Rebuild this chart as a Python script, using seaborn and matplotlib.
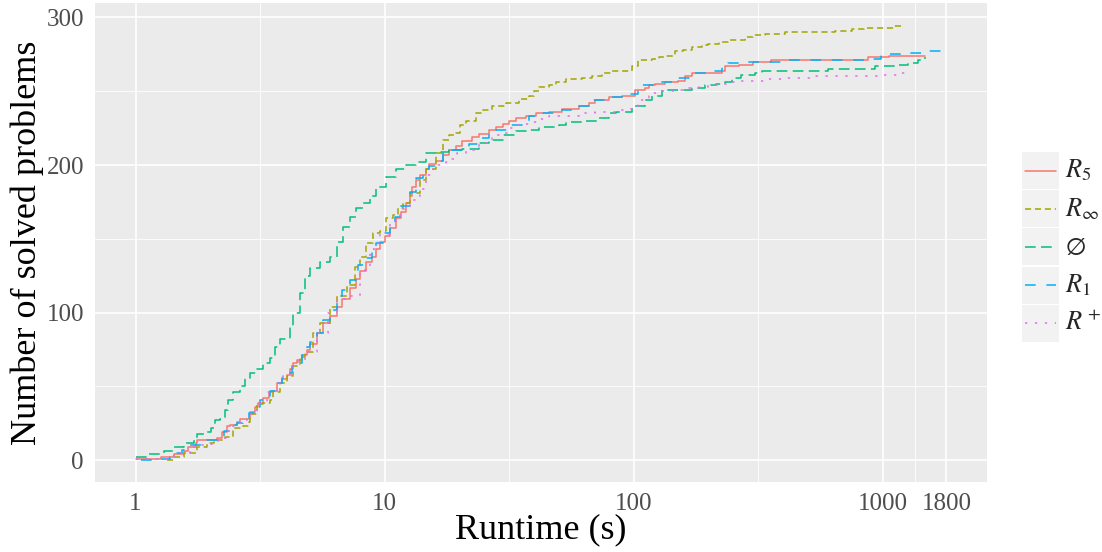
import numpy as np
import pandas as pd
import matplotlib
matplotlib.use("Agg")
import matplotlib.pyplot as plt
from matplotlib.patches import Rectangle
from matplotlib.lines import Line2D
import seaborn as sns

# solver names (legend labels)
solvers = ["$R_5$", "$R_\\infty$", "$\\varnothing$", "$R_1$", "$R^+$"]

# (runtime in s, number of solved problems)
r5 = np.array([
    (1.0, 1), (1.26, 2), (1.42, 4), (1.56, 6), (1.63, 9), (1.74, 12),
    (1.76, 14), (2.12, 15), (2.22, 19), (2.33, 23), (2.4, 24), (2.55, 26),
    (2.63, 28), (2.88, 33), (3.02, 36), (3.11, 39), (3.26, 42), (3.42, 46),
    (3.52, 47), (3.68, 52), (3.86, 55), (4.04, 58), (4.17, 62), (4.3, 66),
    (4.43, 68), (4.64, 71), (4.86, 75), (5.01, 79), (5.33, 86), (5.66, 93),
    (6.03, 98), (6.41, 104), (6.72, 109), (7.24, 117), (7.7, 123),
    (7.94, 128), (8.44, 134), (8.86, 138), (9.27, 143), (9.55, 148),
    (10.0, 152), (10.47, 157), (11.1, 164), (11.66, 168), (12.2, 174),
    (12.6, 179), (12.9, 185), (13.4, 190), (13.8, 193), (14.6, 197),
    (15.1, 201), (16.1, 203), (17.1, 207), (18.2, 210), (19.3, 213),
    (20.5, 216), (22.5, 219), (23.9, 221), (26.2, 224), (28, 226),
    (29.8, 228), (31.6, 230), (33.6, 232), (36.8, 233), (40.4, 235),
    (45.7, 236), (51.6, 238), (60.3, 240), (65.9, 242), (70.1, 244),
    (79.4, 246), (89.8, 247), (101.4, 251), (111, 252), (115, 254),
    (122, 255), (134, 256), (150, 257), (161, 260), (171, 262), (225, 264),
    (232, 267), (265, 268), (300, 270), (357, 271), (871, 273), (1054, 274),
    (1470, 274)])

r_inf = np.array([
    (1.34, 0), (1.42, 2), (1.56, 5), (1.76, 9), (1.93, 12), (2.06, 14),
    (2.29, 16), (2.47, 22), (2.71, 23), (2.84, 26), (2.88, 31), (3.07, 38),
    (3.26, 39), (3.46, 41), (3.57, 46), (3.8, 52), (4.04, 57), (4.3, 64),
    (4.57, 70), (4.79, 73), (5.17, 86), (5.5, 93), (6.03, 104), (6.41, 111),
    (7.04, 119), (7.59, 131), (7.94, 138), (8.44, 147), (8.97, 154),
    (9.55, 155), (10.1, 164), (10.8, 166), (11.3, 171), (11.8, 174),
    (12.6, 181), (13.8, 190), (14.7, 197), (16.1, 208), (17.1, 217),
    (18.2, 220), (19.3, 222), (20, 227), (21.3, 230), (23.2, 235),
    (24.6, 237), (26.9, 240), (30.6, 242), (34.7, 245), (38, 247),
    (39.8, 250), (41.7, 253), (45.7, 254), (48.6, 256), (53.3, 258),
    (62.2, 259), (68, 260), (74.7, 262), (82, 264), (98.3, 267), (104, 271),
    (118, 272), (126, 273), (134, 274), (146, 277), (158, 278), (171, 280),
    (188, 281), (199, 282), (219, 283), (239, 285), (280, 287), (300, 288),
    (335, 289), (405, 290), (645, 291), (750, 292), (842, 293), (1111, 294),
    (1219, 294)])

empty = np.array([
    (1.0, 2), (1.11, 4), (1.3, 6), (1.42, 9), (1.56, 12), (1.71, 14),
    (1.76, 18), (1.88, 19), (2.0, 22), (2.09, 27), (2.19, 28), (2.29, 34),
    (2.36, 41), (2.47, 46), (2.63, 50), (2.75, 56), (2.88, 59), (3.07, 62),
    (3.26, 66), (3.46, 69), (3.63, 77), (3.8, 82), (4.17, 91), (4.3, 100),
    (4.57, 113), (4.79, 125), (5.01, 130), (5.5, 134), (6.03, 138),
    (6.41, 148), (6.81, 158), (7.24, 165), (7.7, 171), (8.2, 174),
    (8.7, 179), (9.27, 185), (10.1, 192), (11.1, 197), (12.2, 200),
    (13.4, 202), (14.7, 208), (16.6, 209), (18.2, 210), (20.5, 211),
    (23.9, 215), (26.2, 217), (29.8, 220), (33.6, 223), (38, 224),
    (41.7, 226), (50, 227), (53.3, 229), (64.3, 230), (72, 232), (79.4, 235),
    (84.5, 236), (98.3, 240), (111, 244), (118, 247), (130, 251), (171, 252),
    (193, 254), (213, 255), (232, 256), (247, 259), (270, 261), (307, 262),
    (326, 264), (603, 265), (927, 267), (1148, 268), (1259, 269),
    (1380, 271), (1470, 273)])

r1 = np.array([
    (1.05, 0), (1.28, 1), (1.38, 2), (1.47, 5), (1.54, 7), (1.63, 10),
    (1.93, 14), (2.19, 16), (2.26, 20), (2.4, 24), (2.55, 25), (2.71, 27),
    (2.84, 32), (3.02, 36), (3.16, 41), (3.31, 43), (3.46, 47), (3.68, 52),
    (3.86, 56), (4.1, 59), (4.23, 64), (4.36, 66), (4.64, 71), (4.86, 77),
    (5.01, 80), (5.33, 86), (5.66, 95), (6.03, 102), (6.41, 111),
    (6.72, 115), (7.24, 122), (7.82, 132), (8.44, 137), (8.86, 143),
    (9.27, 147), (9.85, 154), (10.47, 161), (10.96, 165), (11.5, 172),
    (12.6, 182), (13.4, 191), (14.2, 197), (15.1, 199), (16.1, 203),
    (17.1, 208), (18.7, 210), (20.5, 212), (21.9, 214), (23.9, 218),
    (26.2, 221), (28, 224), (31.6, 227), (36.8, 229), (38, 233), (41.7, 235),
    (48.6, 237), (56.5, 240), (65.9, 242), (68, 244), (76.9, 246),
    (92.6, 248), (104, 253), (107, 254), (122, 256), (146, 259), (166, 261),
    (176, 262), (199, 264), (225, 268), (239, 269), (270, 270), (391, 271),
    (842, 272), (980, 275), (1259, 276), (1510, 277), (1750, 278)])

r_plus = np.array([
    (1.0, 1), (1.3, 1), (1.38, 3), (1.51, 5), (1.66, 9), (1.82, 10),
    (2.0, 11), (2.15, 14), (2.26, 15), (2.33, 20), (2.47, 23), (2.63, 27),
    (2.8, 31), (3.07, 39), (3.36, 46), (3.68, 52), (3.92, 58), (4.3, 64),
    (4.5, 68), (4.79, 73), (5.33, 86), (5.94, 100), (6.41, 109),
    (6.92, 111), (7.94, 129), (8.7, 143), (9.4, 148), (9.55, 153),
    (10.47, 162), (11.5, 170), (12.6, 176), (13.4, 179), (13.8, 184),
    (14.7, 193), (15.6, 197), (16.4, 200), (17.7, 202), (18.7, 204),
    (19.6, 208), (21.3, 210), (23.9, 215), (26.9, 220), (29.8, 222),
    (31.3, 225), (33.6, 227), (36.3, 228), (39.1, 229), (42.2, 231),
    (45.7, 233), (60.3, 235), (70.1, 236), (84.5, 237), (92.6, 238),
    (101, 239), (104, 244), (115, 247), (118, 249), (130, 250), (150, 251),
    (166, 252), (182, 253), (199, 254), (219, 255), (239, 256), (270, 257),
    (335, 258), (405, 259), (532, 260), (955, 261), (1054, 261),
    (1148, 262), (1259, 262)])

x_ticks = [1, 10, 100, 1000, 1800]
y_ticks = [0, 100, 200, 300]

colors = ["#F8766D", "#A3A500", "#00BF7D", "#00B0F6", "#E76BF3"]
dash_styles = ["", (4, 2.5), (7, 3.5), (7, 7), (1.5, 5)]

frames = []
for name, arr in zip(solvers, [r5, r_inf, empty, r1, r_plus]):
    frames.append(pd.DataFrame({"time": arr[:, 0], "solved": arr[:, 1],
                                "solver": name}))
df = pd.concat(frames, ignore_index=True)

sns.set_theme(style="darkgrid", rc={"axes.facecolor": "#EBEBEB"})
plt.rcParams["font.family"] = ["Liberation Serif", "DejaVu Serif"]
plt.rcParams["mathtext.fontset"] = "stix"

W, H = 1102, 552
fig = plt.figure(figsize=(W / 100, H / 100), dpi=100)
ax = fig.add_axes([95 / W, 70 / H, 892 / W, 479 / H])

sns.lineplot(data=df, x="time", y="solved", hue="solver", style="solver",
             hue_order=solvers, style_order=solvers,
             palette=dict(zip(solvers, colors)),
             dashes=dict(zip(solvers, dash_styles)),
             estimator=None, sort=False, drawstyle="steps-post",
             linewidth=1.1, legend=False, ax=ax)

ax.set_xscale("log")
ax.set_xlim(10 ** -0.163, 10 ** 3.418)
ax.set_ylim(-14.75, 309.75)
ax.set_xticks(x_ticks)
ax.set_xticklabels([str(v) for v in x_ticks])
ax.set_xticks([10 ** 0.5, 10 ** 1.5, 10 ** 2.5, np.sqrt(1000 * 1800)],
              minor=True)
ax.set_xticklabels([], minor=True)
ax.set_yticks(y_ticks)
ax.set_yticks([50, 150, 250], minor=True)
ax.grid(which="major", color="white", linewidth=1.2)
ax.grid(which="minor", color="white", linewidth=0.6)
ax.tick_params(which="major", direction="out", length=5, width=1,
               color="#333333", labelcolor="#4D4D4D", labelsize=18, pad=3)
ax.tick_params(which="minor", length=0)
for s in ax.spines.values():
    s.set_visible(False)
ax.set_xlabel("Runtime (s)", fontsize=26, color="black", labelpad=-1)
ax.set_ylabel("Number of solved problems", fontsize=26, color="black",
              labelpad=2)

# legend drawn as separate grey key boxes like ggplot
for i, (name, c, d) in enumerate(zip(solvers, colors, dash_styles)):
    top = 152 + i * 38.2
    fig.add_artist(Rectangle((1022 / W, 1 - (top + 37) / H), 37 / W, 37 / H,
                             transform=fig.transFigure, facecolor="#F2F2F2",
                             edgecolor="none"))
    ln = Line2D([1025 / W, 1056 / W], [1 - (top + 18.5) / H] * 2,
                transform=fig.transFigure, color=c, linewidth=1.1)
    if d:
        ln.set_dashes(d)
    fig.add_artist(ln)
    fig.text(1065 / W, 1 - (top + 18.5) / H, name, fontsize=19,
             va="center", ha="left")

fig.savefig("out.png", dpi=100)
